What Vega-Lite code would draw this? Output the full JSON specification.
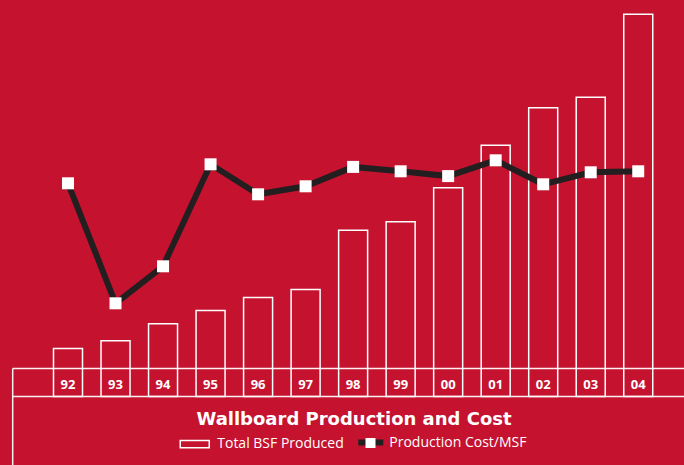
{
  "$schema": "https://vega.github.io/schema/vega-lite/v6.json",
  "width": 684,
  "height": 465,
  "autosize": {"type": "none"},
  "padding": 0,
  "background": "#C4122F",
  "config": {"view": {"stroke": null}},
  "title": {
    "text": "Wallboard Production and Cost",
    "orient": "bottom",
    "anchor": "middle",
    "frame": "group",
    "offset": -54.5,
    "dx": 12,
    "font": "DejaVu Sans",
    "fontSize": 18,
    "fontWeight": "bold",
    "color": "white"
  },
  "data": {
    "values": [
      {"year": 1992, "label": "92", "bsf": 200, "cost": 110.0},
      {"year": 1993, "label": "93", "bsf": 277, "cost": 80.0},
      {"year": 1994, "label": "94", "bsf": 447, "cost": 89.25},
      {"year": 1995, "label": "95", "bsf": 580, "cost": 114.75},
      {"year": 1996, "label": "96", "bsf": 710, "cost": 107.25},
      {"year": 1997, "label": "97", "bsf": 790, "cost": 109.25},
      {"year": 1998, "label": "98", "bsf": 1383, "cost": 114.1},
      {"year": 1999, "label": "99", "bsf": 1467, "cost": 113.0},
      {"year": 2000, "label": "00", "bsf": 1807, "cost": 111.8},
      {"year": 2001, "label": "01", "bsf": 2233, "cost": 115.75},
      {"year": 2002, "label": "02", "bsf": 2607, "cost": 109.75},
      {"year": 2003, "label": "03", "bsf": 2713, "cost": 112.75},
      {"year": 2004, "label": "04", "bsf": 3543, "cost": 113.0}
    ]
  },
  "layer": [
    {
      "layer": [
        {
          "mark": {"type": "bar", "width": 29, "fill": "transparent", "strokeWidth": 1.5},
          "encoding": {
            "x": {
              "field": "year",
              "type": "quantitative",
              "scale": {"domain": [1990.569, 2004.963], "nice": false, "zero": false, "padding": 0},
              "axis": null
            },
            "y": {
              "field": "bsf",
              "type": "quantitative",
              "scale": {"domain": [-965, 3685], "nice": false, "zero": false},
              "axis": null
            },
            "y2": {"datum": -280},
            "stroke": {
              "datum": "Total BSF Produced",
              "type": "nominal",
              "scale": {"range": ["white"]},
              "legend": {
                "orient": "none",
                "legendX": 179.25,
                "legendY": 428.5,
                "title": null,
                "padding": 0,
                "symbolType": "M-1,-0.25H1V0.25H-1Z",
                "symbolSize": 841,
                "symbolStrokeWidth": 1.5,
                "symbolFillColor": "transparent",
                "symbolStrokeColor": "white",
                "symbolOpacity": 1,
                "labelColor": "white",
                "labelFont": "Open Sans",
                "labelFontSize": 14,
                "labelOffset": 7
              }
            }
          }
        },
        {
          "data": {"values": [{"part": "frame"}]},
          "mark": {"type": "rule", "color": "white", "strokeWidth": 1.5, "opacity": 0.95},
          "encoding": {
            "x": {"datum": 1990.836, "type": "quantitative"},
            "x2": {"datum": 2004.963},
            "y": {"datum": 0, "type": "quantitative"}
          }
        },
        {
          "data": {"values": [{"part": "frame"}]},
          "mark": {"type": "rule", "color": "white", "strokeWidth": 1.5, "opacity": 0.95},
          "encoding": {
            "x": {"datum": 1990.836, "type": "quantitative"},
            "x2": {"datum": 2004.963},
            "y": {"datum": -280, "type": "quantitative"}
          }
        },
        {
          "data": {"values": [{"part": "frame"}]},
          "mark": {"type": "rule", "color": "white", "strokeWidth": 1.5, "opacity": 0.95},
          "encoding": {
            "x": {"datum": 1990.836, "type": "quantitative"},
            "y": {"datum": 0, "type": "quantitative"},
            "y2": {"datum": -965}
          }
        },
        {
          "mark": {
            "type": "text",
            "font": "Open Sans",
            "fontWeight": "bold",
            "fontSize": 13,
            "color": "white",
            "baseline": "middle",
            "align": "center"
          },
          "encoding": {
            "x": {"field": "year", "type": "quantitative"},
            "y": {"datum": -160, "type": "quantitative"},
            "text": {"field": "label", "type": "nominal"}
          }
        }
      ]
    },
    {
      "layer": [
        {
          "mark": {"type": "line", "strokeWidth": 6},
          "encoding": {
            "x": {"field": "year", "type": "quantitative"},
            "y": {
              "field": "cost",
              "type": "quantitative",
              "scale": {"domain": [39.575, 155.825], "nice": false, "zero": false},
              "axis": null
            },
            "color": {
              "datum": "Production Cost/MSF",
              "type": "nominal",
              "scale": {"range": ["#231F20"]},
              "legend": {
                "orient": "none",
                "legendX": 355.3,
                "legendY": 427,
                "title": null,
                "padding": 0,
                "symbolType": "stroke",
                "symbolSize": 625,
                "symbolStrokeWidth": 6,
                "symbolStrokeColor": "#231F20",
                "symbolOpacity": 1,
                "labelColor": "white",
                "labelFont": "Open Sans",
                "labelFontSize": 14,
                "labelOffset": 3
              }
            }
          }
        },
        {
          "mark": {"type": "point", "filled": true, "color": "white", "opacity": 1, "size": 144, "strokeWidth": 0},
          "encoding": {
            "x": {"field": "year", "type": "quantitative"},
            "y": {"field": "cost", "type": "quantitative"},
            "shape": {
              "datum": "cost marker",
              "type": "nominal",
              "scale": {"range": ["square"]},
              "legend": {
                "orient": "none",
                "legendX": 365.5,
                "legendY": 438,
                "zindex": 1,
                "title": null,
                "padding": 0,
                "symbolSize": 100,
                "symbolFillColor": "white",
                "symbolStrokeWidth": 0,
                "symbolOpacity": 1,
                "labelExpr": "''",
                "labelFontSize": 1
              }
            }
          }
        }
      ]
    }
  ],
  "resolve": {"scale": {"y": "independent"}}
}
